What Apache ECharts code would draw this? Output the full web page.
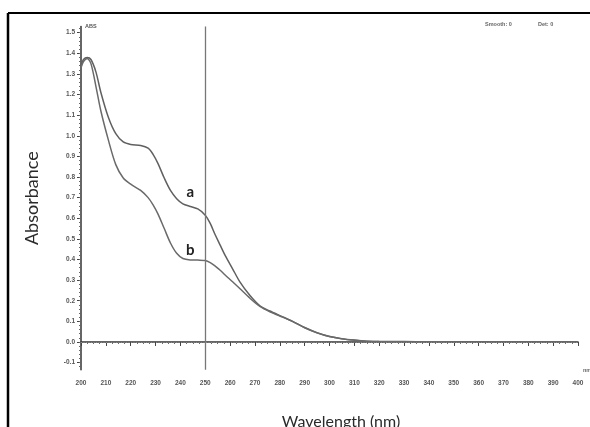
<!DOCTYPE html>
<html><head><meta charset="utf-8">
<script src="https://cdn.jsdelivr.net/npm/echarts@6/dist/echarts.min.js"></script>
<style>html,body{margin:0;padding:0;background:#fff}#c{width:590px;height:427px}</style>
</head><body><div id="c"></div>
<script>
const wavelength = [200,201,202.5,204,206,208,211,214,217,220,224,227,229,231,233.5,236,238.5,241,244,247,250,252,254,256,258,261,264,268,272,276,280,285,290,295,300,305,310,315,320,330,340,350,360,370,380,390,400];
const absA = [1.34,1.37,1.38,1.37,1.31,1.21,1.09,1.01,0.97,0.958,0.953,0.94,0.91,0.865,0.795,0.735,0.695,0.67,0.657,0.645,0.615,0.575,0.52,0.47,0.42,0.355,0.29,0.225,0.175,0.15,0.128,0.101,0.07,0.045,0.027,0.016,0.009,0.004,0.002,0.002,0.001,0,0,0,0,0,0];
const absB = [1.33,1.36,1.375,1.35,1.24,1.12,0.98,0.86,0.795,0.765,0.735,0.70,0.665,0.62,0.55,0.48,0.43,0.405,0.398,0.397,0.395,0.385,0.368,0.348,0.325,0.292,0.258,0.212,0.172,0.146,0.126,0.1,0.069,0.044,0.026,0.015,0.008,0.004,0.002,0.001,0.001,0,0,0,0,0,0];
const yTickValues = [-0.1,0,0.1,0.2,0.3,0.4,0.5,0.6,0.7,0.8,0.9,1.0,1.1,1.2,1.3,1.4,1.5];
const yMinorTicks = [];
for (let i = -6; i <= 76; i++) yMinorTicks.push(+(i * 0.02).toFixed(2));
const markerWavelength = 250;
const labelA = {text: 'a', coord: [244, 0.727]};
const labelB = {text: 'b', coord: [244, 0.446]};

const pairs = (ys) => wavelength.map((x, i) => [x, ys[i]]);
const tickFont = {fontFamily: 'Liberation Sans', fontSize: 6.5, fontWeight: 'bold', color: '#555'};

const chart = echarts.init(document.getElementById('c'));
chart.setOption({
  animation: false,
  backgroundColor: '#fff',
  grid: {left: 81, right: 12, top: 26.5, bottom: 57.2, containLabel: false, outerBoundsMode: 'none'},
  xAxis: {
    type: 'value', min: 200, max: 400, interval: 10,
    name: 'Wavelength (nm)', nameLocation: 'middle', nameGap: 44,
    nameTextStyle: {fontFamily: 'Lato', fontSize: 16, color: '#2a2a2a', padding: [0, 0, 0, 23]},
    axisLine: {lineStyle: {color: '#333', width: 1.5}},
    axisTick: {inside: false, length: 4, lineStyle: {color: '#444'}},
    minorTick: {show: true, splitNumber: 4, length: 2, lineStyle: {color: '#666'}},
    axisLabel: Object.assign({margin: 10}, tickFont),
    splitLine: {show: false}
  },
  yAxis: [{
    type: 'value', min: -0.135, max: 1.53,
    name: 'Absorbance', nameLocation: 'middle', nameGap: 40, nameRotate: 90,
    nameTextStyle: {fontFamily: 'Lato', fontSize: 18, color: '#2a2a2a'},
    axisLine: {show: true, lineStyle: {color: '#333', width: 1.5}},
    axisTick: {show: true, length: 4, customValues: yTickValues, lineStyle: {color: '#444'}},
    axisLabel: Object.assign({margin: 6, customValues: yTickValues, formatter: v => v.toFixed(1)}, tickFont),
    splitLine: {show: false}
  }, {
    type: 'value', min: -0.135, max: 1.53, position: 'left',
    name: 'ABS', nameLocation: 'end', nameGap: 0,
    nameTextStyle: {fontFamily: 'Liberation Sans', fontSize: 5.5, fontWeight: 'bold', color: '#555', align: 'left', verticalAlign: 'middle', padding: [0, 0, 0, 4]},
    axisLine: {show: false},
    axisTick: {show: true, length: 2, customValues: yMinorTicks, lineStyle: {color: '#666'}},
    axisLabel: {show: false},
    splitLine: {show: false}
  }],
  graphic: [
    {type: 'line', shape: {x1: 8, y1: 13, x2: 590, y2: 13}, style: {stroke: '#000', lineWidth: 2}},
    {type: 'line', shape: {x1: 8, y1: 13, x2: 8, y2: 427}, style: {stroke: '#000', lineWidth: 2.5}},
    {type: 'text', left: 485, top: 21, style: {text: 'Smooth: 0', font: 'bold 5.5px "Liberation Sans"', fill: '#666'}},
    {type: 'text', left: 538, top: 21, style: {text: 'Det: 0', font: 'bold 5.5px "Liberation Sans"', fill: '#666'}},
    {type: 'text', left: 583, top: 367, style: {text: 'nm', font: 'bold 5.5px "Liberation Sans"', fill: '#666'}}
  ],
  series: [{
    name: 'a', type: 'line', data: pairs(absA), smooth: 0.3, showSymbol: false,
    lineStyle: {color: '#606060', width: 1.5}, z: 3,
    markLine: {
      silent: true, symbol: 'none', label: {show: false},
      data: [
        {xAxis: markerWavelength, lineStyle: {color: '#777', width: 1.3, type: 'solid'}},
        {yAxis: 0, lineStyle: {color: '#888', width: 1, type: [1, 1.5]}}
      ]
    },
    markPoint: {
      symbol: 'circle', symbolSize: 0,
      label: {show: true, formatter: labelA.text, fontFamily: 'Lato', fontWeight: 'bold', fontSize: 15, color: '#222', position: 'inside'},
      data: [{coord: labelA.coord}]
    }
  }, {
    name: 'b', type: 'line', data: pairs(absB), smooth: 0.3, showSymbol: false,
    lineStyle: {color: '#6a6a6a', width: 1.5}, z: 3,
    markPoint: {
      symbol: 'circle', symbolSize: 0,
      label: {show: true, formatter: labelB.text, fontFamily: 'Lato', fontWeight: 'bold', fontSize: 15, color: '#222', position: 'inside'},
      data: [{coord: labelB.coord}]
    }
  }]
});
</script>
</body></html>
